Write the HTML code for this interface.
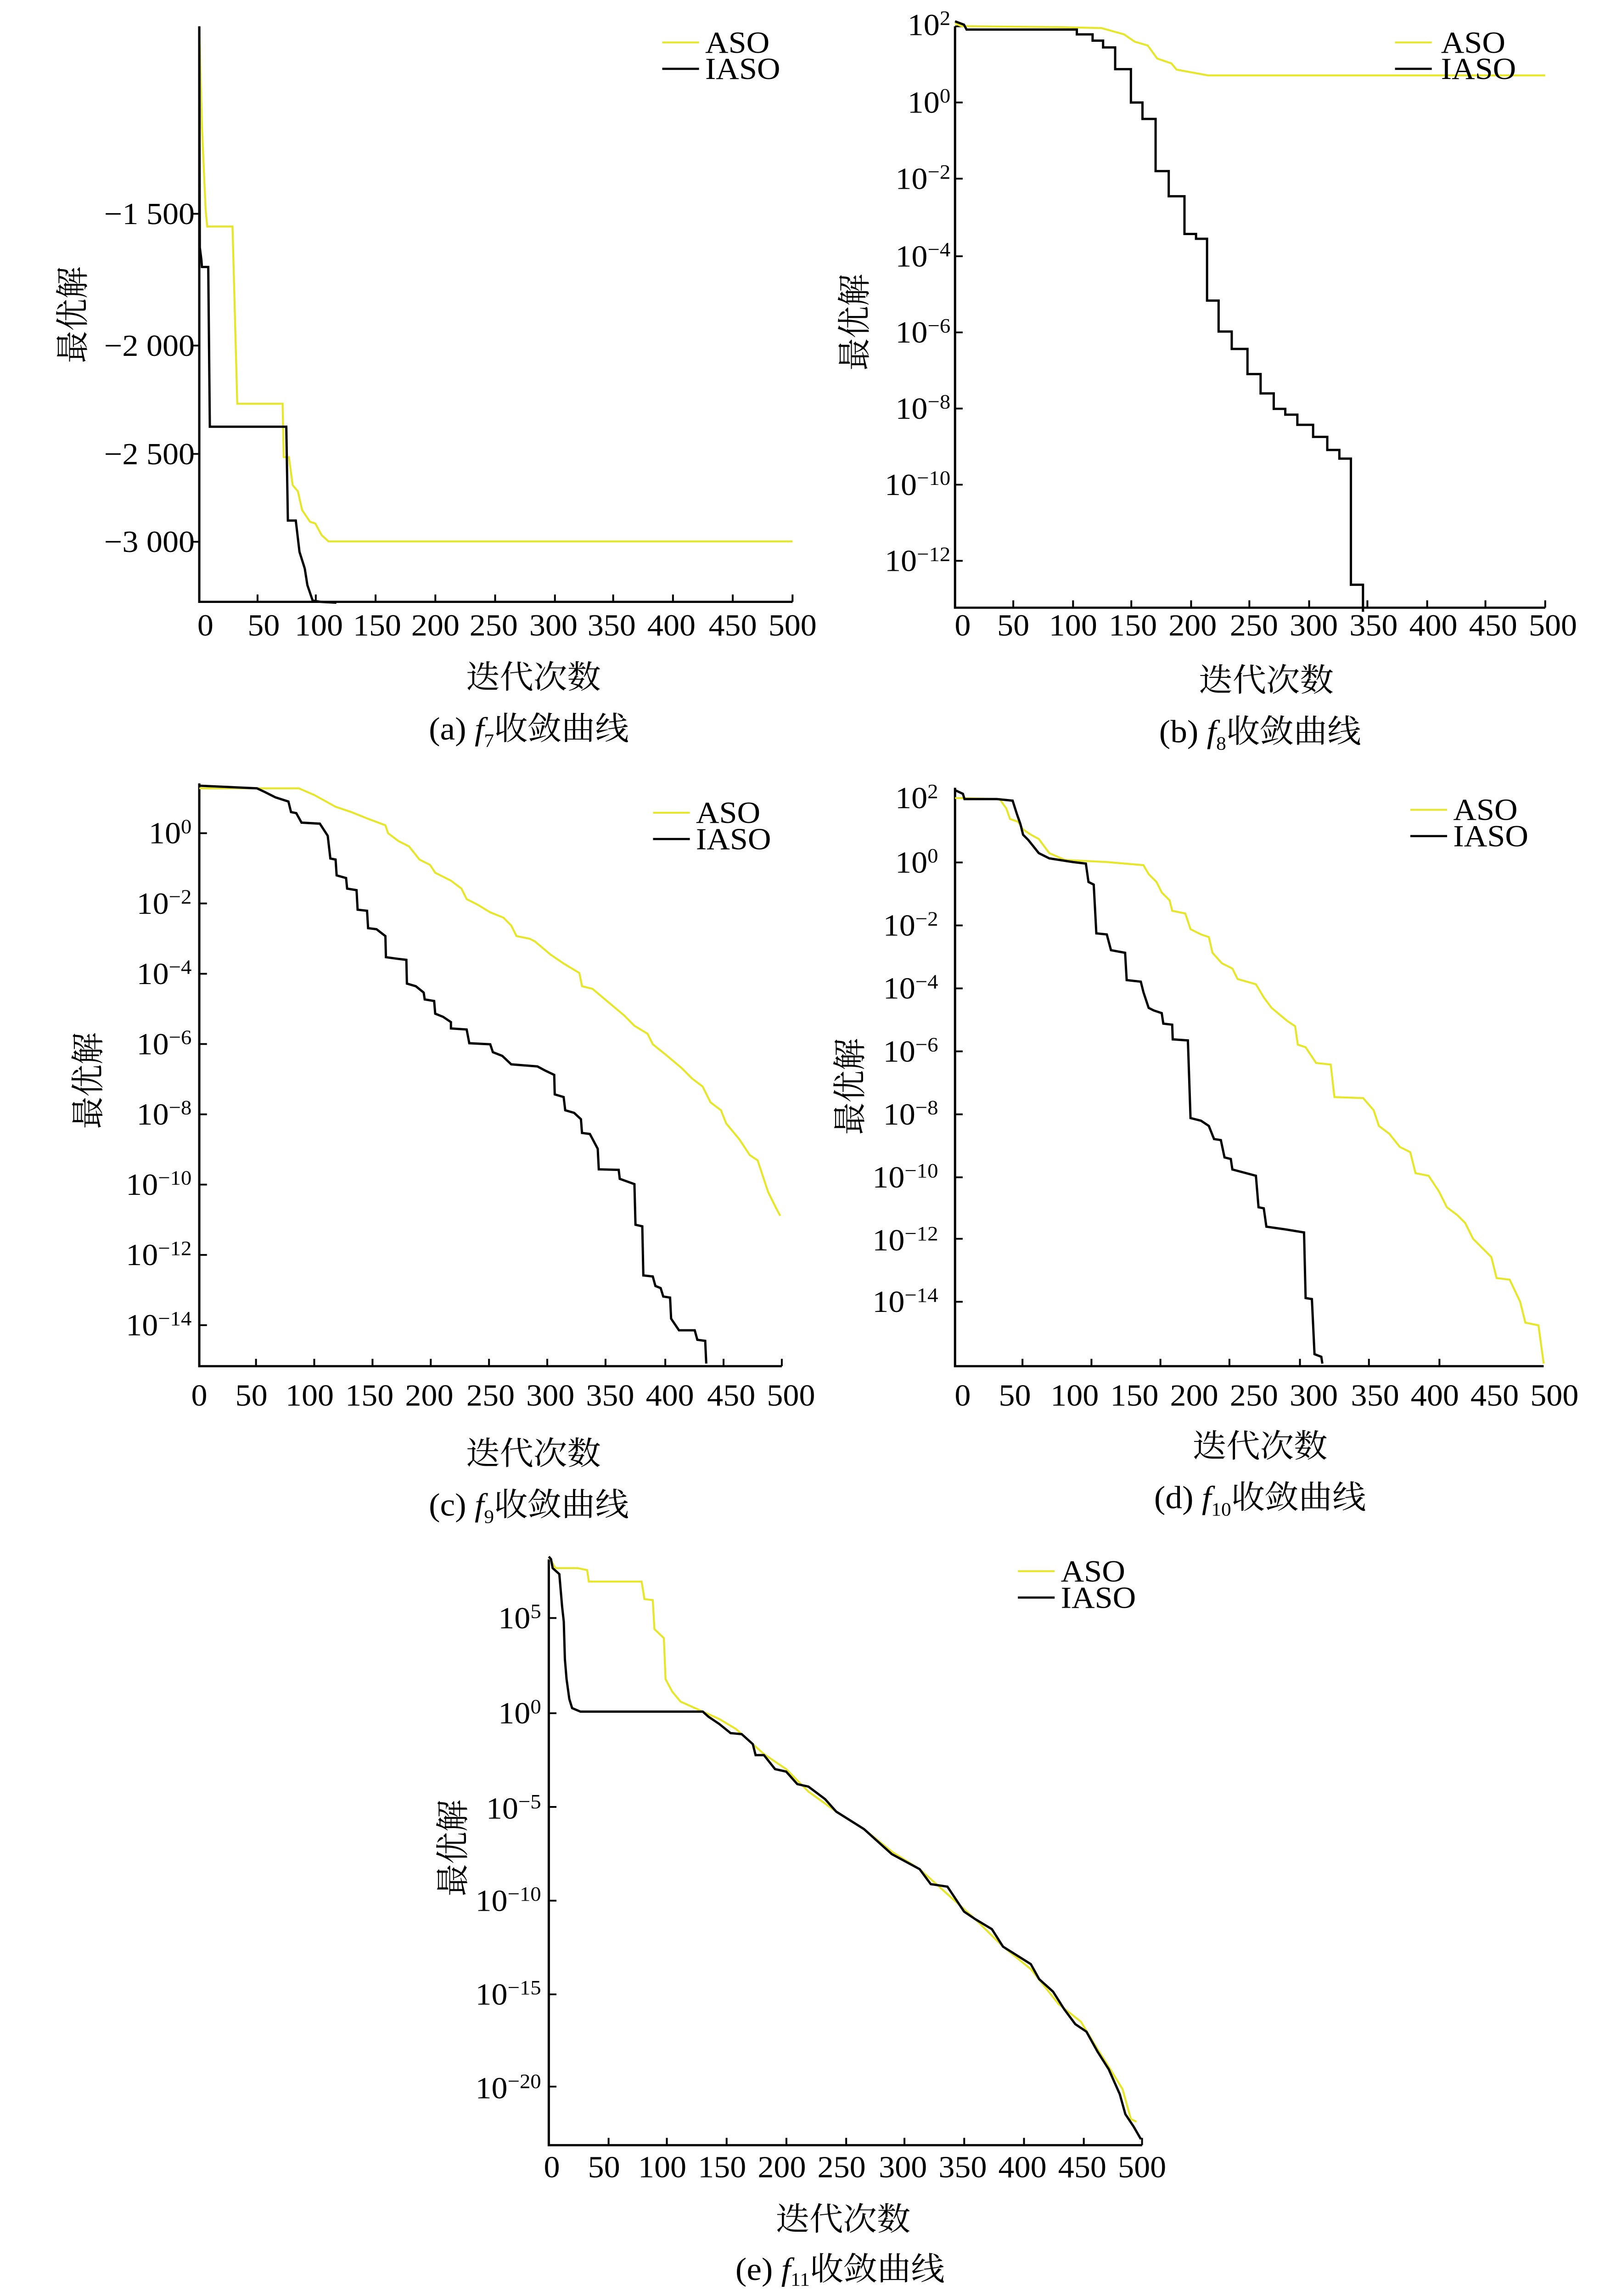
<!DOCTYPE html>
<html><head><meta charset="utf-8"><style>
html,body{margin:0;padding:0;background:#fff;overflow:hidden;width:100%;height:100%;}
svg{display:block;width:100vw;height:100vh;}
text{font-family:"Liberation Serif","Noto Serif CJK SC",serif;fill:#000;}
.t{font-size:21px;}
.c{font-size:22px;}
.a{fill:none;stroke:#e6e62a;stroke-width:1.3;}
.b{fill:none;stroke:#000;stroke-width:1.5;}
.a2{fill:none;stroke:#e6e62a;stroke-width:4.3;}
.b2{fill:none;stroke:#000;stroke-width:5;}
.ax{fill:none;stroke:#000;stroke-width:1.5;}
.tk{stroke:#000;stroke-width:1.2;}
</style></head><body>
<svg width="3496" height="5240" viewBox="0 0 1047 1568" preserveAspectRatio="none" xmlns="http://www.w3.org/2000/svg">
<!-- Panel a -->
<path class="ax" d="M130,18 V411 H517"/>
<g class="tk"><path d="M125,146H130M125,236H130M125,310H130M125,370H130M168,411V406M206,411V406M245,411V406M284,411V406M323,411V406M362,411V406M400,411V406M439,411V406M478,411V406M517,411V406"/></g>
<g class="t" text-anchor="end">
<text x="127" y="153">−1 500</text><text x="127" y="243">−2 000</text><text x="127" y="317">−2 500</text><text x="127" y="377">−3 000</text>
</g>
<g class="t" text-anchor="middle">
<text x="134" y="434">0</text><text x="172" y="434">50</text><text x="208" y="434">100</text><text x="246" y="434">150</text><text x="284" y="434">200</text><text x="322" y="434">250</text><text x="361" y="434">300</text><text x="399" y="434">350</text><text x="438" y="434">400</text><text x="478" y="434">450</text><text x="517" y="434">500</text>
</g>
<g transform="matrix(0.344 0 0 0.2848 -0.72 0.91)">
<polyline class="a2" vector-effect="non-scaling-stroke" points="380,60 385,300 392,500 395,540 443,540 452,965 538,965 540,1093 550,1093 557,1160 567,1175 575,1220 590,1248 600,1252 612,1280 625,1295 1505,1295"/>
<polyline class="b2" vector-effect="non-scaling-stroke" points="380,60 381,590 384,620 385,637 397,637 400,1020 545,1020 548,1245 563,1245 570,1320 580,1360 585,1400 595,1437 610,1440 640,1442"/>
</g>
<line x1="432" y1="29" x2="456" y2="29" class="a"/><text x="460" y="36" class="t">ASO</text>
<line x1="432" y1="47" x2="456" y2="47" class="b"/><text x="460" y="54" class="t">IASO</text>
<text class="c" transform="translate(55,215) rotate(-90)" text-anchor="middle">最优解</text>
<text x="348" y="470" class="c" text-anchor="middle">迭代次数</text>
<text x="345" y="505" class="c" text-anchor="middle">(a) <tspan font-style="italic">f</tspan><tspan font-size="13" dy="5">7</tspan><tspan dy="-5">收敛曲线</tspan></text>

<!-- Panel b -->
<path class="ax" d="M623,18 V415 H1008"/>
<g class="tk"><path d="M623,18H628M623,70H628M623,122H628M623,175H628M623,227H628M623,279H628M623,331H628M623,383H628M661,415V410M700,415V410M738,415V410M777,415V410M815,415V410M854,415V410M892,415V410M931,415V410M969,415V410M1008,415V410"/></g>
<g class="t" text-anchor="end">
<text x="620" y="24">10<tspan font-size="14" dy="-7">2</tspan></text>
<text x="620" y="77">10<tspan font-size="14" dy="-7">0</tspan></text>
<text x="620" y="129">10<tspan font-size="14" dy="-7">−2</tspan></text>
<text x="620" y="182">10<tspan font-size="14" dy="-7">−4</tspan></text>
<text x="620" y="234">10<tspan font-size="14" dy="-7">−6</tspan></text>
<text x="620" y="286">10<tspan font-size="14" dy="-7">−8</tspan></text>
<text x="620" y="338">10<tspan font-size="14" dy="-7">−10</tspan></text>
<text x="620" y="390">10<tspan font-size="14" dy="-7">−12</tspan></text>
</g>
<g class="t" text-anchor="middle">
<text x="628" y="434">0</text><text x="661" y="434">50</text><text x="700" y="434">100</text><text x="739" y="434">150</text><text x="778" y="434">200</text><text x="818" y="434">250</text><text x="857" y="434">300</text><text x="896" y="434">350</text><text x="935" y="434">400</text><text x="974" y="434">450</text><text x="1013" y="434">500</text>
</g>
<g transform="matrix(0.3425 0 0 0.33 508.95 -4.58)">
<polyline class="a2" vector-effect="non-scaling-stroke" points="333,62 345,68 530,70 612,72 655,85 675,100 700,108 718,135 745,145 755,158 790,165 815,170 1457,170"/>
<polyline class="b2" vector-effect="non-scaling-stroke" points="333,58 350,65 355,75 565,75 565,85 595,85 595,98 615,98 615,112 638,112 638,157 668,157 668,226 690,226 690,260 715,260 715,368 740,368 740,420 770,420 770,498 792,498 792,508 813,508 813,636 835,636 835,700 860,700 860,736 890,736 890,788 915,788 915,828 940,828 940,860 962,860 962,872 985,872 985,893 1015,893 1015,918 1042,918 1042,945 1065,945 1065,963 1087,963 1087,1224 1110,1224 1110,1280"/>
</g>
<line x1="910" y1="29" x2="934" y2="29" class="a"/><text x="940" y="36" class="t">ASO</text>
<line x1="910" y1="47" x2="934" y2="47" class="b"/><text x="940" y="54" class="t">IASO</text>
<text class="c" transform="translate(565,220) rotate(-90)" text-anchor="middle">最优解</text>
<text x="826" y="472" class="c" text-anchor="middle">迭代次数</text>
<text x="822" y="507" class="c" text-anchor="middle">(b) <tspan font-style="italic">f</tspan><tspan font-size="13" dy="5">8</tspan><tspan dy="-5">收敛曲线</tspan></text>

<!-- Panel c -->
<path class="ax" d="M130,535 V933 H510"/>
<g class="tk"><path d="M130,569H135M130,617H135M130,665H135M130,713H135M130,761H135M130,809H135M130,857H135M130,905H135M167,933V928M205,933V928M243,933V928M281,933V928M319,933V928M357,933V928M395,933V928M434,933V928M472,933V928M510,933V928"/></g>
<g class="t" text-anchor="end">
<text x="125" y="576">10<tspan font-size="14" dy="-7">0</tspan></text>
<text x="125" y="624">10<tspan font-size="14" dy="-7">−2</tspan></text>
<text x="125" y="672">10<tspan font-size="14" dy="-7">−4</tspan></text>
<text x="125" y="720">10<tspan font-size="14" dy="-7">−6</tspan></text>
<text x="125" y="768">10<tspan font-size="14" dy="-7">−8</tspan></text>
<text x="125" y="816">10<tspan font-size="14" dy="-7">−10</tspan></text>
<text x="125" y="864">10<tspan font-size="14" dy="-7">−12</tspan></text>
<text x="125" y="912">10<tspan font-size="14" dy="-7">−14</tspan></text>
</g>
<g class="t" text-anchor="middle">
<text x="130" y="960">0</text><text x="164" y="960">50</text><text x="202" y="960">100</text><text x="241" y="960">150</text><text x="280" y="960">200</text><text x="320" y="960">250</text><text x="359" y="960">300</text><text x="398" y="960">350</text><text x="437" y="960">400</text><text x="477" y="960">450</text><text x="516" y="960">500</text>
</g>
<g transform="matrix(0.342 0 0 0.3604 0.04 478.9)">
<polyline class="a2" vector-effect="non-scaling-stroke" points="380,165 570,165 600,178 640,200 670,210 700,222 735,235 740,250 760,265 780,275 800,300 820,310 830,325 860,340 880,355 890,375 910,385 935,400 960,410 975,425 985,445 1010,450 1020,455 1050,480 1075,497 1105,515 1110,540 1130,545 1160,570 1190,595 1210,615 1235,630 1245,650 1270,670 1300,695 1320,715 1340,730 1355,760 1375,775 1385,800 1410,830 1430,860 1445,870 1455,900 1465,930 1480,960 1488,975"/>
<polyline class="b2" vector-effect="non-scaling-stroke" points="380,160 490,165 505,172 525,182 550,190 555,210 565,212 575,230 610,232 625,255 630,298 640,300 642,330 660,335 662,355 680,358 682,395 700,397 702,430 718,432 735,445 736,485 758,488 775,490 776,535 793,540 808,552 810,565 828,568 830,592 845,598 860,608 860,620 890,622 895,648 935,650 940,665 958,672 975,688 1000,690 1025,692 1040,700 1057,708 1058,745 1075,750 1078,775 1095,780 1108,792 1110,818 1125,820 1140,848 1142,887 1180,888 1182,905 1210,915 1212,992 1225,995 1227,1088 1245,1090 1250,1108 1260,1112 1265,1128 1278,1130 1280,1170 1295,1192 1325,1192 1330,1210 1345,1212 1347,1255"/>
</g>
<line x1="426" y1="555" x2="450" y2="555" class="a"/><text x="454" y="562" class="t">ASO</text>
<line x1="426" y1="573" x2="450" y2="573" class="b"/><text x="454" y="580" class="t">IASO</text>
<text class="c" transform="translate(65,738) rotate(-90)" text-anchor="middle">最优解</text>
<text x="348" y="1000" class="c" text-anchor="middle">迭代次数</text>
<text x="345" y="1035" class="c" text-anchor="middle">(c) <tspan font-style="italic">f</tspan><tspan font-size="13" dy="5">9</tspan><tspan dy="-5">收敛曲线</tspan></text>

<!-- Panel d -->
<path class="ax" d="M623,538 V933 H1007"/>
<g class="tk"><path d="M623,545H628M623,589H628M623,632H628M623,675H628M623,718H628M623,761H628M623,804H628M623,846H628M623,889H628M667,933V928M712,933V928M757,933V928M802,933V928M848,933V928M893,933V928M939,933V928"/></g>
<g class="t" text-anchor="end">
<text x="612" y="552">10<tspan font-size="14" dy="-7">2</tspan></text>
<text x="612" y="596">10<tspan font-size="14" dy="-7">0</tspan></text>
<text x="612" y="639">10<tspan font-size="14" dy="-7">−2</tspan></text>
<text x="612" y="682">10<tspan font-size="14" dy="-7">−4</tspan></text>
<text x="612" y="725">10<tspan font-size="14" dy="-7">−6</tspan></text>
<text x="612" y="768">10<tspan font-size="14" dy="-7">−8</tspan></text>
<text x="612" y="811">10<tspan font-size="14" dy="-7">−10</tspan></text>
<text x="612" y="854">10<tspan font-size="14" dy="-7">−12</tspan></text>
<text x="612" y="896">10<tspan font-size="14" dy="-7">−14</tspan></text>
</g>
<g class="t" text-anchor="middle">
<text x="628" y="960">0</text><text x="662" y="960">50</text><text x="701" y="960">100</text><text x="740" y="960">150</text><text x="779" y="960">200</text><text x="818" y="960">250</text><text x="857" y="960">300</text><text x="897" y="960">350</text><text x="936" y="960">400</text><text x="975" y="960">450</text><text x="1014" y="960">500</text>
</g>
<g transform="matrix(0.3413 0 0 0.3583 510.4 480.5)">
<polyline class="a2" vector-effect="non-scaling-stroke" points="330,180 415,182 428,200 435,220 450,225 460,240 475,250 490,258 510,285 540,298 580,300 620,302 690,308 700,325 715,340 725,360 740,375 745,395 770,400 780,430 800,440 815,445 822,475 840,495 860,505 870,525 905,535 920,560 935,580 965,605 980,615 985,650 1000,655 1020,685 1048,688 1055,750 1110,752 1130,775 1140,805 1160,820 1180,845 1200,855 1210,895 1235,900 1255,930 1270,960 1290,975 1305,990 1320,1020 1335,1035 1355,1055 1365,1095 1390,1098 1410,1140 1420,1180 1445,1185 1455,1258"/>
<polyline class="b2" vector-effect="non-scaling-stroke" points="330,165 345,172 348,182 410,182 440,185 448,210 455,230 460,250 470,260 490,285 510,295 555,302 580,305 585,340 595,345 600,438 620,440 628,470 655,475 658,527 685,530 690,550 700,580 710,585 725,590 728,610 745,612 746,640 775,642 780,790 800,795 815,805 825,830 838,832 845,865 857,868 860,888 905,900 910,960 920,962 925,997 960,1002 997,1008 1000,1133 1012,1135 1017,1240 1030,1245 1032,1258"/>
</g>
<line x1="920" y1="553" x2="944" y2="553" class="a"/><text x="948" y="560" class="t">ASO</text>
<line x1="920" y1="571" x2="944" y2="571" class="b"/><text x="948" y="578" class="t">IASO</text>
<text class="c" transform="translate(562,742) rotate(-90)" text-anchor="middle">最优解</text>
<text x="822" y="995" class="c" text-anchor="middle">迭代次数</text>
<text x="822" y="1030" class="c" text-anchor="middle">(d) <tspan font-style="italic">f</tspan><tspan font-size="13" dy="5">10</tspan><tspan dy="-5">收敛曲线</tspan></text>

<!-- Panel e -->
<path class="ax" d="M358,1065 V1465 H745"/>
<g class="tk"><path d="M358,1105H363M358,1170H363M358,1234H363M358,1298H363M358,1362H363M358,1425H363M397,1465V1460M435,1465V1460M474,1465V1460M513,1465V1460M552,1465V1460M590,1465V1460M629,1465V1460M668,1465V1460M707,1465V1460M745,1465V1460"/></g>
<g class="t" text-anchor="end">
<text x="353" y="1112">10<tspan font-size="14" dy="-7">5</tspan></text>
<text x="353" y="1177">10<tspan font-size="14" dy="-7">0</tspan></text>
<text x="353" y="1242">10<tspan font-size="14" dy="-7">−5</tspan></text>
<text x="353" y="1305">10<tspan font-size="14" dy="-7">−10</tspan></text>
<text x="353" y="1369">10<tspan font-size="14" dy="-7">−15</tspan></text>
<text x="353" y="1433">10<tspan font-size="14" dy="-7">−20</tspan></text>
</g>
<g class="t" text-anchor="middle">
<text x="360" y="1487">0</text><text x="394" y="1487">50</text><text x="432" y="1487">100</text><text x="471" y="1487">150</text><text x="510" y="1487">200</text><text x="549" y="1487">250</text><text x="589" y="1487">300</text><text x="628" y="1487">350</text><text x="667" y="1487">400</text><text x="706" y="1487">450</text><text x="745" y="1487">500</text>
</g>
<g transform="matrix(0.3627 0 0 0.3415 237.2 1030.6)">
<polyline class="a2" vector-effect="non-scaling-stroke" points="333,95 345,118 385,118 402,122 405,145 500,145 505,180 520,182 523,240 540,258 543,340 555,365 570,385 590,395 610,405 640,420 670,440 700,470 720,490 760,520 800,565 850,605 900,640 950,685 1000,720 1050,770 1100,820 1150,875 1200,920 1250,990 1290,1025 1320,1080 1340,1115 1365,1160 1380,1220 1390,1225"/>
<polyline class="b2" vector-effect="non-scaling-stroke" points="333,95 337,100 340,118 352,130 357,195 360,225 362,300 365,340 370,380 375,398 390,405 610,405 620,415 640,430 660,448 680,450 700,470 705,492 720,492 740,520 760,525 780,550 800,555 830,580 850,605 900,640 950,690 1000,720 1020,750 1050,755 1080,805 1100,820 1130,840 1150,875 1200,910 1215,940 1240,965 1260,1000 1280,1030 1300,1045 1320,1085 1340,1120 1360,1170 1370,1210 1385,1235 1398,1260"/>
</g>
<line x1="664" y1="1073" x2="688" y2="1073" class="a"/><text x="692" y="1080" class="t">ASO</text>
<line x1="664" y1="1091" x2="688" y2="1091" class="b"/><text x="692" y="1098" class="t">IASO</text>
<text class="c" transform="translate(303,1262) rotate(-90)" text-anchor="middle">最优解</text>
<text x="550" y="1523" class="c" text-anchor="middle">迭代次数</text>
<text x="548" y="1557" class="c" text-anchor="middle">(e) <tspan font-style="italic">f</tspan><tspan font-size="13" dy="4">11</tspan><tspan dy="-4">收敛曲线</tspan></text>
</svg>
</body></html>
